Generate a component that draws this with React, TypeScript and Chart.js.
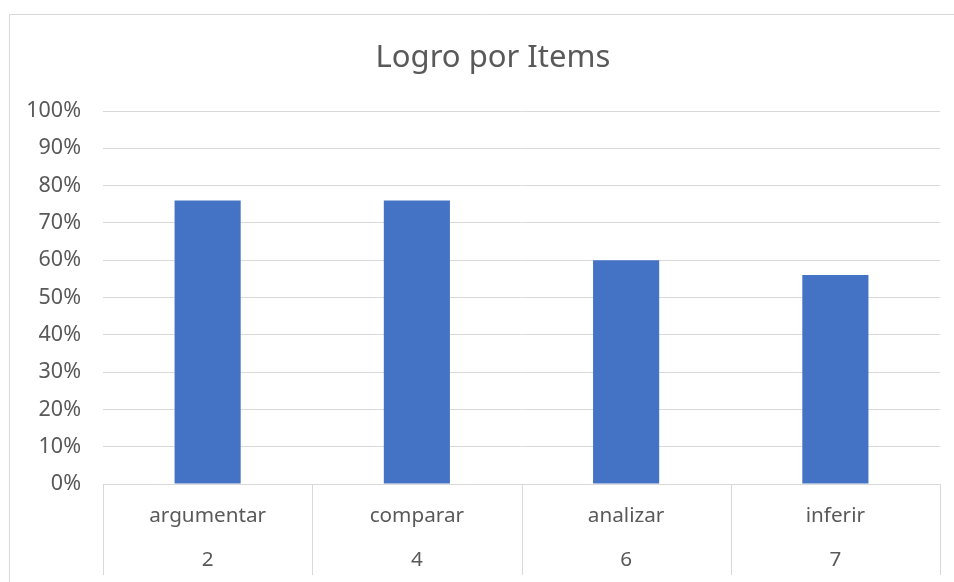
import React, { useEffect, useRef } from "react";
import { Chart, registerables } from "chart.js";

Chart.register(...registerables);

const TITLE = "Logro por Items";
const CATEGORIES = ["argumentar", "comparar", "analizar", "inferir"];
const ITEM_NUMBERS = ["2", "4", "6", "7"];
const LOGRO = [0.76, 0.76, 0.6, 0.56];

const FONT = "'Noto Sans', 'Open Sans', sans-serif";
const GRID = "#d9d9d9";
const TEXT = "#595959";

const decorPlugin = {
  id: "decor",
  afterDraw(chart: any) {
    const { ctx, chartArea } = chart;
    const x = chart.scales.x;
    ctx.save();
    // outer frame
    ctx.strokeStyle = GRID;
    ctx.lineWidth = 1;
    ctx.beginPath();
    ctx.moveTo(9.5, 600);
    ctx.lineTo(9.5, 14.5);
    ctx.lineTo(1000, 14.5);
    ctx.stroke();
    // title
    ctx.fillStyle = TEXT;
    ctx.font = `31px ${FONT}`;
    ctx.textAlign = "center";
    ctx.textBaseline = "middle";
    ctx.fillText(TITLE, 493, 58);
    // multi-level category axis
    const labels = chart.data.labels as string[];
    const n = labels.length;
    const step = (chartArea.right - chartArea.left) / n;
    ctx.beginPath();
    for (let i = 0; i <= n; i++) {
      const px = Math.round(chartArea.left + i * step) + 0.5;
      ctx.moveTo(px, chartArea.bottom);
      ctx.lineTo(px, 575);
    }
    ctx.moveTo(chartArea.left, Math.round(chartArea.bottom) + 0.5);
    ctx.lineTo(chartArea.right, Math.round(chartArea.bottom) + 0.5);
    ctx.stroke();
    ctx.font = `20.7px ${FONT}`;
    for (let i = 0; i < n; i++) {
      const cx = x.getPixelForValue(i);
      ctx.fillText(labels[i], cx, 516);
      ctx.fillText(ITEM_NUMBERS[i], cx, 560);
    }
    ctx.restore();
  },
};

export default function App() {
  const ref = useRef<HTMLCanvasElement>(null);
  useEffect(() => {
    if (!ref.current) return;
    const chart = new Chart(ref.current, {
      type: "bar",
      data: {
        labels: CATEGORIES,
        datasets: [
          {
            label: TITLE,
            data: LOGRO,
            backgroundColor: "#4472c4",
            categoryPercentage: 1,
            barPercentage: 0.316,
          },
        ],
      },
      options: {
        animation: false,
        responsive: false,
        layout: { padding: { top: 111, right: 14, bottom: 98, left: 0 } },
        plugins: {
          legend: { display: false },
          title: { display: false },
          tooltip: { enabled: false },
        },
        scales: {
          x: { display: false },
          y: {
            min: 0,
            max: 1,
            afterFit: (s: any) => {
              s.width = 103;
            },
            ticks: {
              stepSize: 0.1,
              padding: 22,
              color: TEXT,
              font: { family: FONT, size: 21.5 },
              callback: (v: any) => Math.round(Number(v) * 100) + "%",
            },
            grid: { color: GRID, drawTicks: false },
            border: { display: false },
          },
        },
      },
      plugins: [decorPlugin],
    });
    return () => chart.destroy();
  }, []);
  return (
    <div style={{ position: "fixed", left: 0, top: 0, width: 954, height: 582, background: "#fff" }}>
      <canvas ref={ref} width={954} height={582} />
    </div>
  );
}
